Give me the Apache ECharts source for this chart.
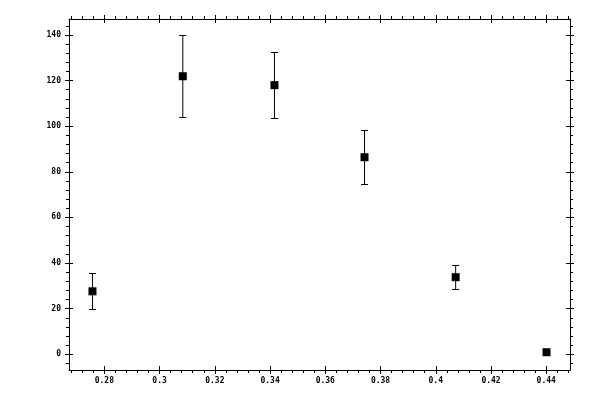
<!DOCTYPE html>
<html>
<head>
<meta charset="utf-8">
<script src="https://cdn.jsdelivr.net/npm/echarts@6/dist/echarts.min.js"></script>
<style>html,body{margin:0;padding:0;background:#fff;}#c{width:600px;height:400px;}</style>
</head>
<body>
<div id="c"></div>
<script>
var xValues = [0.2757, 0.3084, 0.3416, 0.3742, 0.4072, 0.4401];
var yValues = [27.6, 121.9, 118.0, 86.4, 33.8, 0.9];
var yLow = [19.7, 103.9, 103.5, 74.6, 28.5, 0.9];
var yHigh = [35.5, 140.0, 132.5, 98.2, 39.0, 0.9];
var xMajorTicks = [0.28, 0.30, 0.32, 0.34, 0.36, 0.38, 0.40, 0.42, 0.44];
var yMajorTicks = [0, 20, 40, 60, 80, 100, 120, 140];
var xMin = 0.2672, xMax = 0.4486, yMin = -6.9, yMax = 147.0;

function minors(start, end, step, majors) {
  var out = [];
  var n = Math.round((end - start) / step);
  for (var i = 0; i <= n; i++) {
    var v = +(start + i * step).toFixed(6);
    var isMajor = majors.some(function (m) { return Math.abs(m - v) < step / 10; });
    if (!isMajor) out.push(v);
  }
  return out;
}
var xMinorTicks = minors(0.268, 0.448, 0.004, xMajorTicks);
var yMinorTicks = minors(-4, 144, 4, yMajorTicks);

var font = { fontFamily: 'DejaVu Sans Mono', fontSize: 8, fontWeight: 'bold', color: '#000' };

function mkAxis(kind, pos, opts) {
  var a = {
    type: 'value', position: pos, offset: 0,
    min: kind === 'x' ? xMin : yMin, max: kind === 'x' ? xMax : yMax,
    splitLine: { show: false },
    axisLine: { show: !!opts.line, onZero: false, lineStyle: { color: '#000', width: 1 } },
    axisTick: { show: true, inside: !!opts.inside, length: opts.len, customValues: opts.ticks, lineStyle: { color: '#000', width: 1 } },
    axisLabel: { show: false }
  };
  if (opts.labels) {
    a.axisLabel = Object.assign({ show: true, customValues: opts.ticks, margin: opts.margin }, font);
  }
  return a;
}

var xAxes = [
  mkAxis('x', 'bottom', { line: true, len: 4, ticks: xMajorTicks, labels: true, margin: 7 }),
  mkAxis('x', 'bottom', { inside: true, len: 4, ticks: xMajorTicks }),
  mkAxis('x', 'bottom', { len: 3, ticks: xMinorTicks }),
  mkAxis('x', 'top', { line: true, len: 4, ticks: xMajorTicks }),
  mkAxis('x', 'top', { inside: true, len: 4, ticks: xMajorTicks }),
  mkAxis('x', 'top', { len: 3, ticks: xMinorTicks })
];
var yAxes = [
  mkAxis('y', 'left', { line: true, len: 4, ticks: yMajorTicks, labels: true, margin: 8 }),
  mkAxis('y', 'left', { inside: true, len: 4, ticks: yMajorTicks }),
  mkAxis('y', 'left', { len: 3, ticks: yMinorTicks }),
  mkAxis('y', 'right', { line: true, len: 4, ticks: yMajorTicks }),
  mkAxis('y', 'right', { inside: true, len: 4, ticks: yMajorTicks }),
  mkAxis('y', 'right', { len: 3, ticks: yMinorTicks })
];

var errData = xValues.map(function (x, i) { return [x, yLow[i], yHigh[i]]; });
var ptData = xValues.map(function (x, i) { return [x, yValues[i]]; });

var chart = echarts.init(document.getElementById('c'), null, { renderer: 'canvas' });
chart.setOption({
  animation: false,
  backgroundColor: '#fff',
  grid: { left: 69, right: 30, top: 19, bottom: 30, containLabel: false },
  xAxis: xAxes,
  yAxis: yAxes,
  series: [
    {
      type: 'custom', xAxisIndex: 0, yAxisIndex: 0,
      data: errData,
      renderItem: function (params, api) {
        var lo = api.coord([api.value(0), api.value(1)]);
        var hi = api.coord([api.value(0), api.value(2)]);
        if (api.value(2) - api.value(1) < 0.01) return { type: 'group', children: [] };
        var w = 3.5;
        var cx = lo[0];
        var y1 = Math.round(lo[1]) + 0.5, y2 = Math.round(hi[1]) + 0.5;
        var st = { stroke: '#000', lineWidth: 1 };
        return {
          type: 'group',
          children: [
            { type: 'line', shape: { x1: cx, y1: y1, x2: cx, y2: y2 }, style: st },
            { type: 'line', shape: { x1: cx - w, y1: y1, x2: cx + w, y2: y1 }, style: st },
            { type: 'line', shape: { x1: cx - w, y1: y2, x2: cx + w, y2: y2 }, style: st }
          ]
        };
      },
      z: 2
    },
    {
      type: 'scatter', xAxisIndex: 0, yAxisIndex: 0,
      data: ptData,
      symbol: 'rect', symbolSize: 8,
      itemStyle: { color: '#000', opacity: 1 },
      z: 3
    }
  ]
});
</script>
</body>
</html>
